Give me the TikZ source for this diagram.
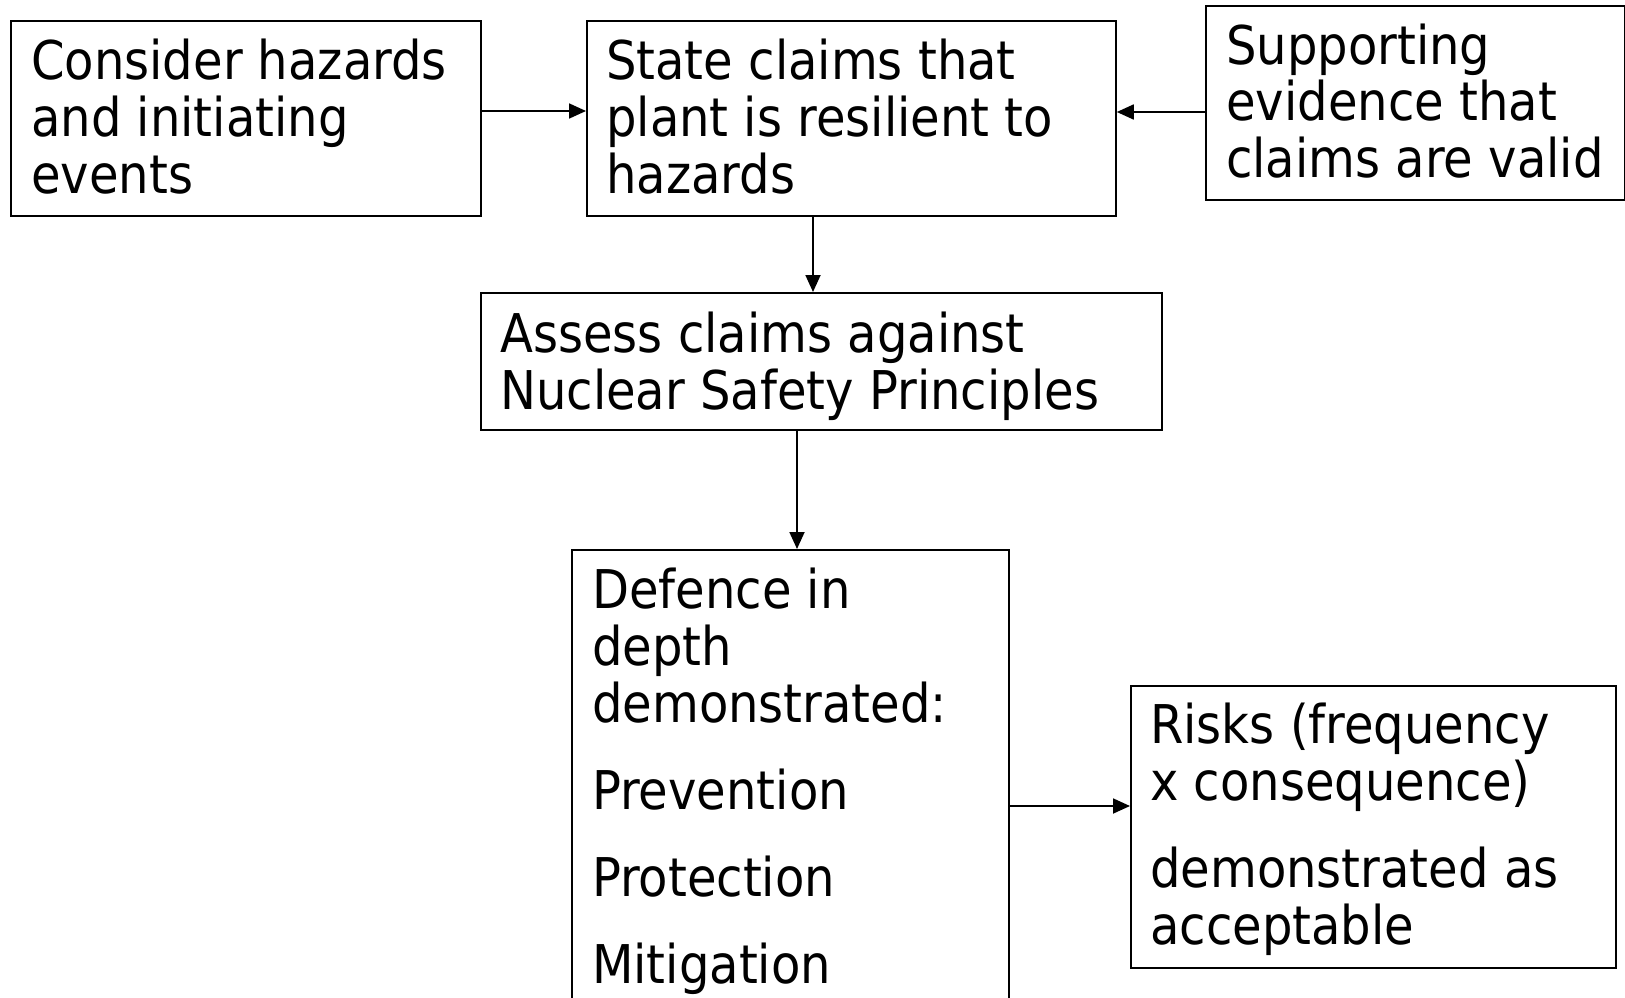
\documentclass[tikz,border=0pt]{standalone}
\usepackage{fontspec}
\setmainfont{DejaVu Sans Condensed}
\usetikzlibrary{arrows.meta}
\begin{document}
\begin{tikzpicture}[x=1pt,y=-1pt,
  box/.style={draw=black,line width=1.8pt,inner sep=0pt,anchor=north west},
  txt/.style={inner sep=0pt,anchor=base west,font=\fontsize{53.4}{57}\selectfont},
  arr/.style={line width=1.8pt,-{Triangle[length=17pt,width=15pt]}}]
\useasboundingbox (0,0) rectangle (1625,998);
% boxes
\node[box,minimum width=470pt,minimum height=195pt] (b1) at (10,20) {};
\node[box,minimum width=529pt,minimum height=195pt] (b2) at (586,20) {};
\node[box,minimum width=419pt,minimum height=194pt] (b3) at (1205,5) {};
\node[box,minimum width=681pt,minimum height=137pt] (b4) at (480,292) {};
\node[box,minimum width=437pt,minimum height=470pt] (b5) at (571,549) {};
\node[box,minimum width=485pt,minimum height=282pt] (b6) at (1130,685) {};
% texts
\newcommand{\tb}[2]{\parbox[t]{#1}{\raggedright\parskip=30pt #2}}
\node[txt] (t1) at (31,80) {\tb{440pt}{Consider hazards\\ and initiating\\ events}};
\node[txt] (t2) at (606,80) {\tb{500pt}{State claims that\\ plant is resilient to\\ hazards}};
\node[txt] (t3) at (1226,64) {\tb{400pt}{Supporting\\ evidence that\\ claims are valid}};
\node[txt] (t4) at (500,352) {\tb{650pt}{Assess claims against\\ Nuclear Safety Principles}};
\node[txt] (t5) at (592,608) {\tb{410pt}{Defence in\\ depth\\ demonstrated:\par Prevention\par Protection\par Mitigation}};
\node[txt] (t6) at (1150,743) {\tb{460pt}{Risks (frequency\\ x consequence)\par demonstrated as\\ acceptable}};
% connectors
\draw[arr] (b1.east |- 0,111) -- (b2.west |- 0,111);
\draw[arr] (b3.west |- 0,112) -- (b2.east |- 0,112);
\draw[arr] (b2.south -| 813,0) -- (b4.north -| 813,0);
\draw[arr] (b4.south -| 797,0) -- (b5.north -| 797,0);
\draw[arr] (b5.east |- 0,806) -- (b6.west |- 0,806);
\end{tikzpicture}
\end{document}
